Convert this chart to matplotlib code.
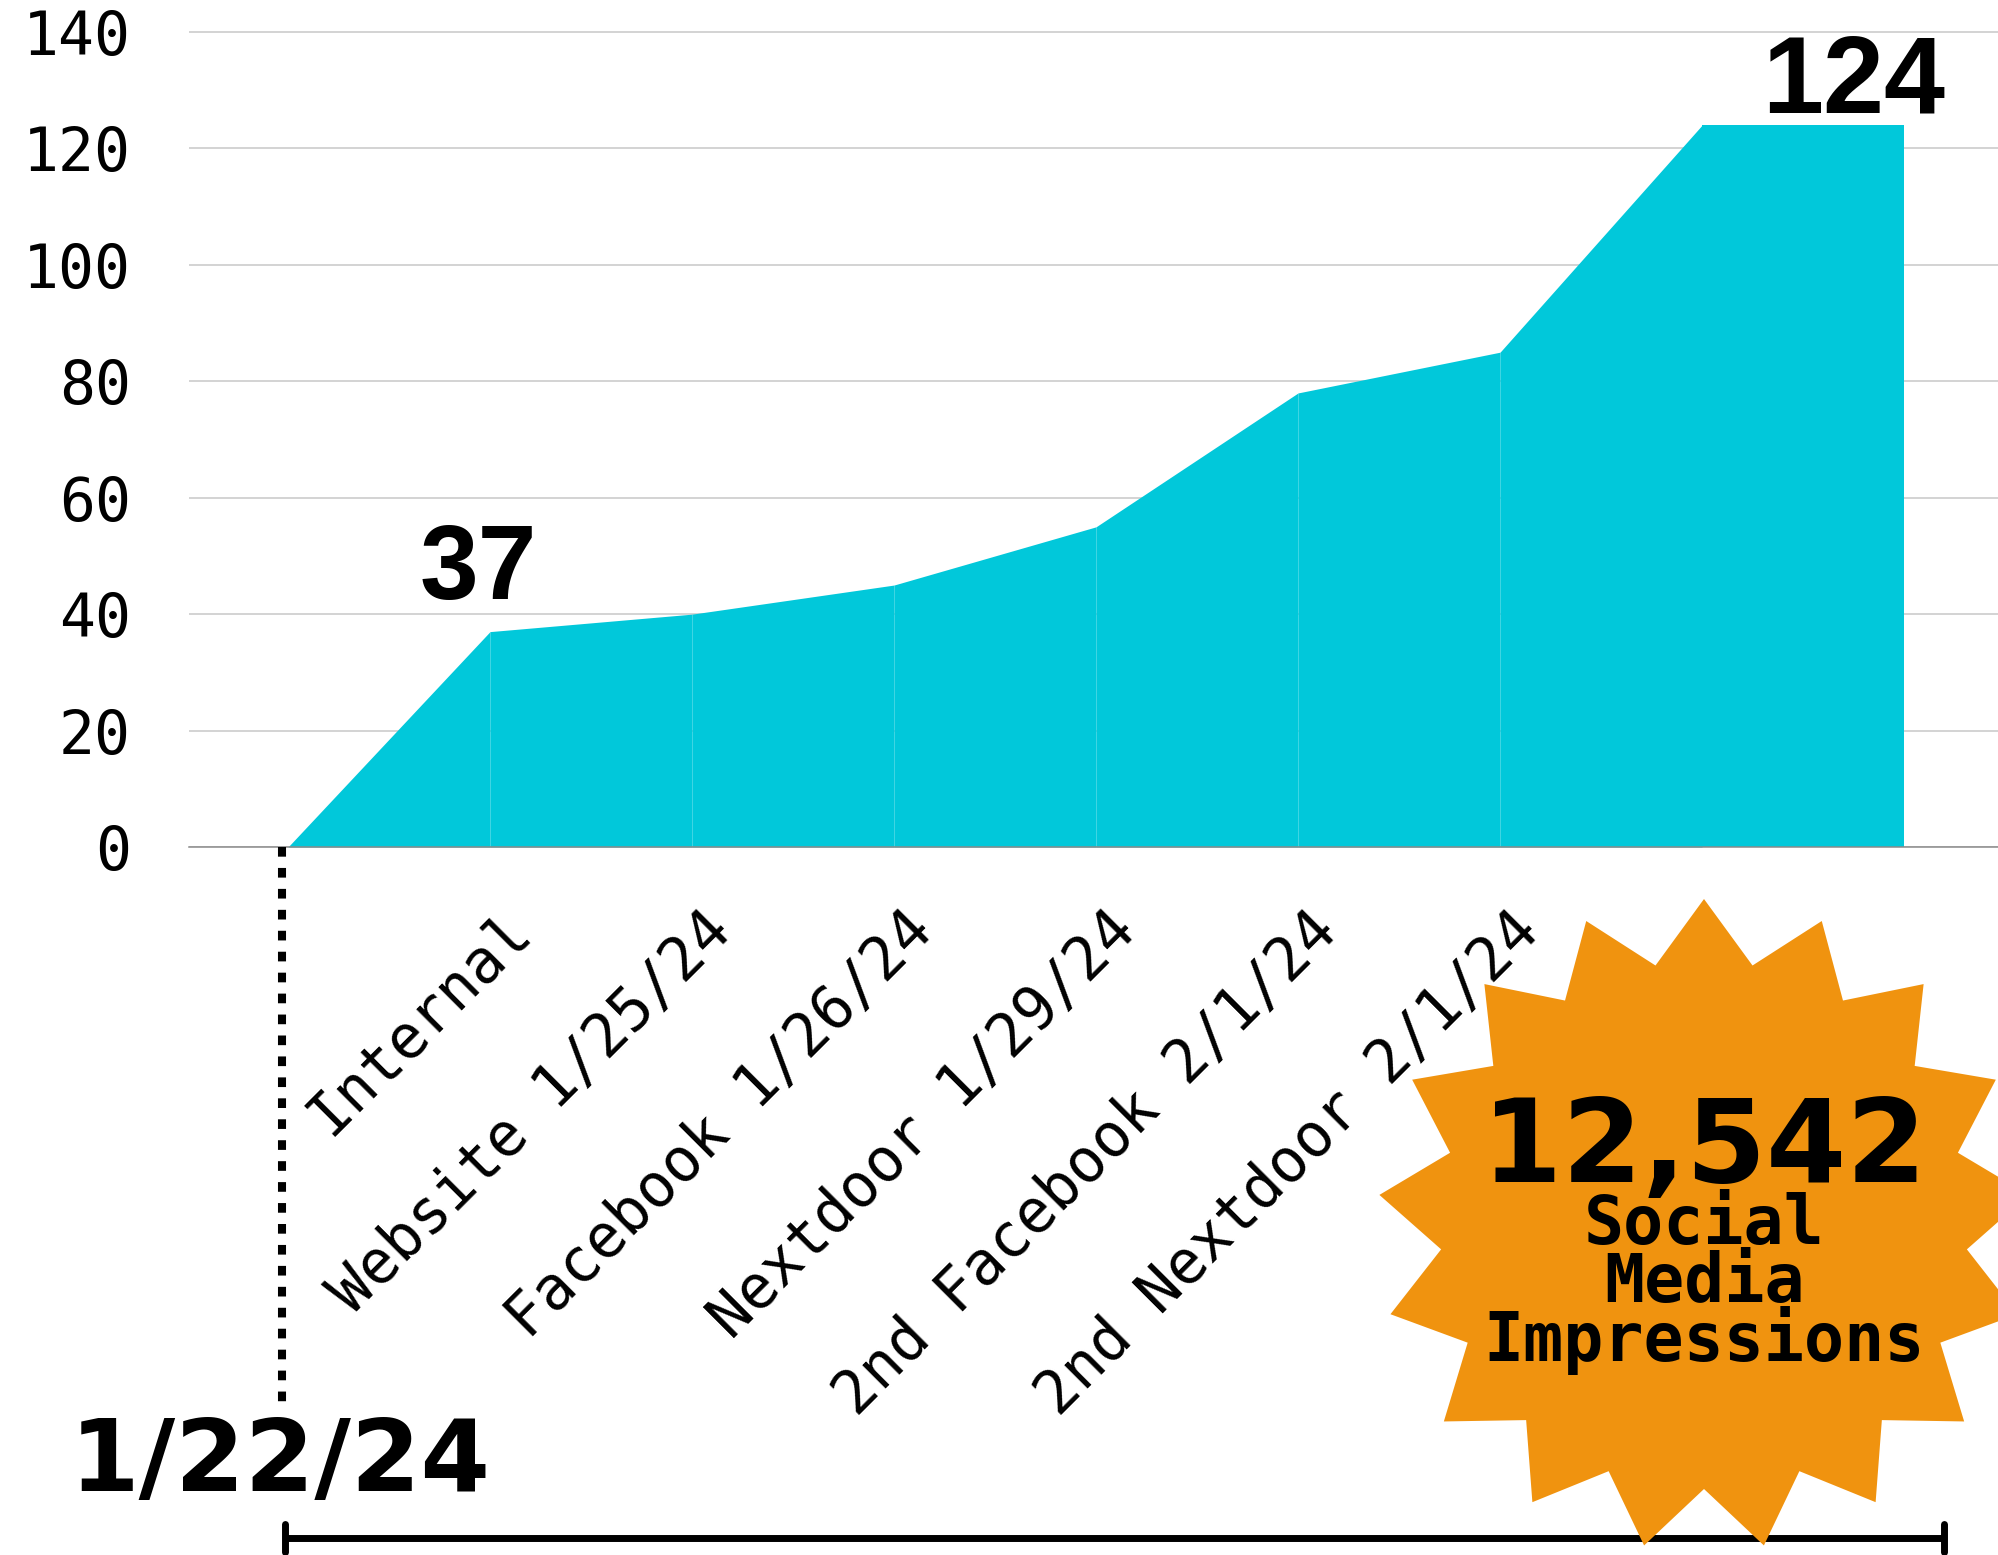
import numpy as np
import matplotlib.pyplot as plt
from matplotlib.patches import Polygon
from matplotlib.lines import Line2D
from matplotlib.transforms import ScaledTranslation

# data
categories = ["", "Internal", "Website 1/25/24", "Facebook 1/26/24", "Nextdoor 1/29/24",
              "2nd Facebook 2/1/24", "2nd Nextdoor 2/1/24", "", ""]
values = [0, 37, 40, 45, 55, 78, 85, 124, 124]
y_ticks = [0, 20, 40, 60, 80, 100, 120, 140]
start_date = "1/22/24"
total_impressions = "12,542"
callout_lines = ["Social", "Media", "Impressions"]

TEAL = "#01C8DA"
ORANGE = "#F0930F"
MONO = "DejaVu Sans Mono"

fig = plt.figure(figsize=(19.98, 15.55), dpi=100)
ax = fig.add_axes([0.0946, 0.4553, 0.9054, 0.5316])

x = np.arange(len(values))
# fill each segment separately (gives the faint seams between steps)
for i in range(len(values) - 1):
    ax.fill_between(x[i:i + 2], values[i:i + 2], 0, color=TEAL, lw=0, zorder=2)

ax.set_xlim(-0.49, 8.465)
ax.set_ylim(0, 142)
ax.set_yticks(y_ticks)
ax.grid(axis='y', color='#c8c8c8', lw=1.1)
ax.set_axisbelow(True)
for s in ['top', 'right', 'left']:
    ax.spines[s].set_visible(False)
ax.spines['bottom'].set_color('#8a8a8a')
ax.spines['bottom'].set_linewidth(1.1)
ax.tick_params(axis='y', length=0, pad=42, labelsize=43)
ax.tick_params(axis='x', length=0, pad=39, labelsize=43)
for lab in ax.get_yticklabels():
    lab.set_family(MONO)

ax.set_xticks(x)
ax.set_xticklabels(categories, rotation=45, ha='right', rotation_mode='anchor', family=MONO)
shift = ScaledTranslation(0.10, 0, fig.dpi_scale_trans)
for lab in ax.get_xticklabels():
    lab.set_transform(lab.get_transform() + shift)

# value callouts
ax.annotate(str(values[1]), xy=(1, values[1]), xytext=(-8.6, 23.8), textcoords='offset points',
            ha='center', va='baseline', fontsize=76, fontweight='bold', family='Liberation Sans')
ax.annotate(str(values[-1]), xy=(8, values[-1]), xytext=(-36, 9.4), textcoords='offset points',
            ha='center', va='baseline', fontsize=79, fontweight='bold', family='Liberation Sans')

# dotted start marker
ax.plot([-0.03, -0.03], [0, -96], color='black', lw=5.8, linestyle=(0, (1.2, 1.4)),
        dash_capstyle='butt', clip_on=False, zorder=3)
fig.text(0.140, 0.0412, start_date, ha='center', va='baseline', fontsize=72,
         fontweight='bold', family='DejaVu Sans')

# timeline bracket at the bottom
x0, x1, yl = 0.1426, 0.9730, 0.0109
fig.add_artist(Line2D([x0, x1], [yl, yl], color='black', lw=5, solid_capstyle='butt', zorder=3))
for xe in (x0, x1):
    fig.add_artist(Line2D([xe, xe], [0.0019, 0.0199], color='black', lw=5,
                          solid_capstyle='round', zorder=3))

# starburst badge
n = 17
cx, cy = 1704, 1225  # pixels from top-left
r_out, r_in = 326, 264
ang = np.pi / 2 + np.arange(2 * n) * np.pi / n
rad = np.where(np.arange(2 * n) % 2 == 0, r_out, r_in)
px = cx + rad * np.cos(ang)
py = cy - rad * np.sin(ang)
pts = np.column_stack([px / 1998, 1 - py / 1555])
fig.add_artist(Polygon(pts, closed=True, facecolor=ORANGE, edgecolor='none',
                       transform=fig.transFigure, zorder=4))

fig.text(0.8529, 0.2399, total_impressions, ha='center', va='baseline', fontsize=83,
         fontweight='bold', family='DejaVu Sans', zorder=5)
for word, yb in zip(callout_lines, [0.2000, 0.1627, 0.1248]):
    fig.text(0.8529, yb, word, ha='center', va='baseline', fontsize=48,
             fontweight='bold', family=MONO, zorder=5)

fig.savefig('out.png', dpi=100)
